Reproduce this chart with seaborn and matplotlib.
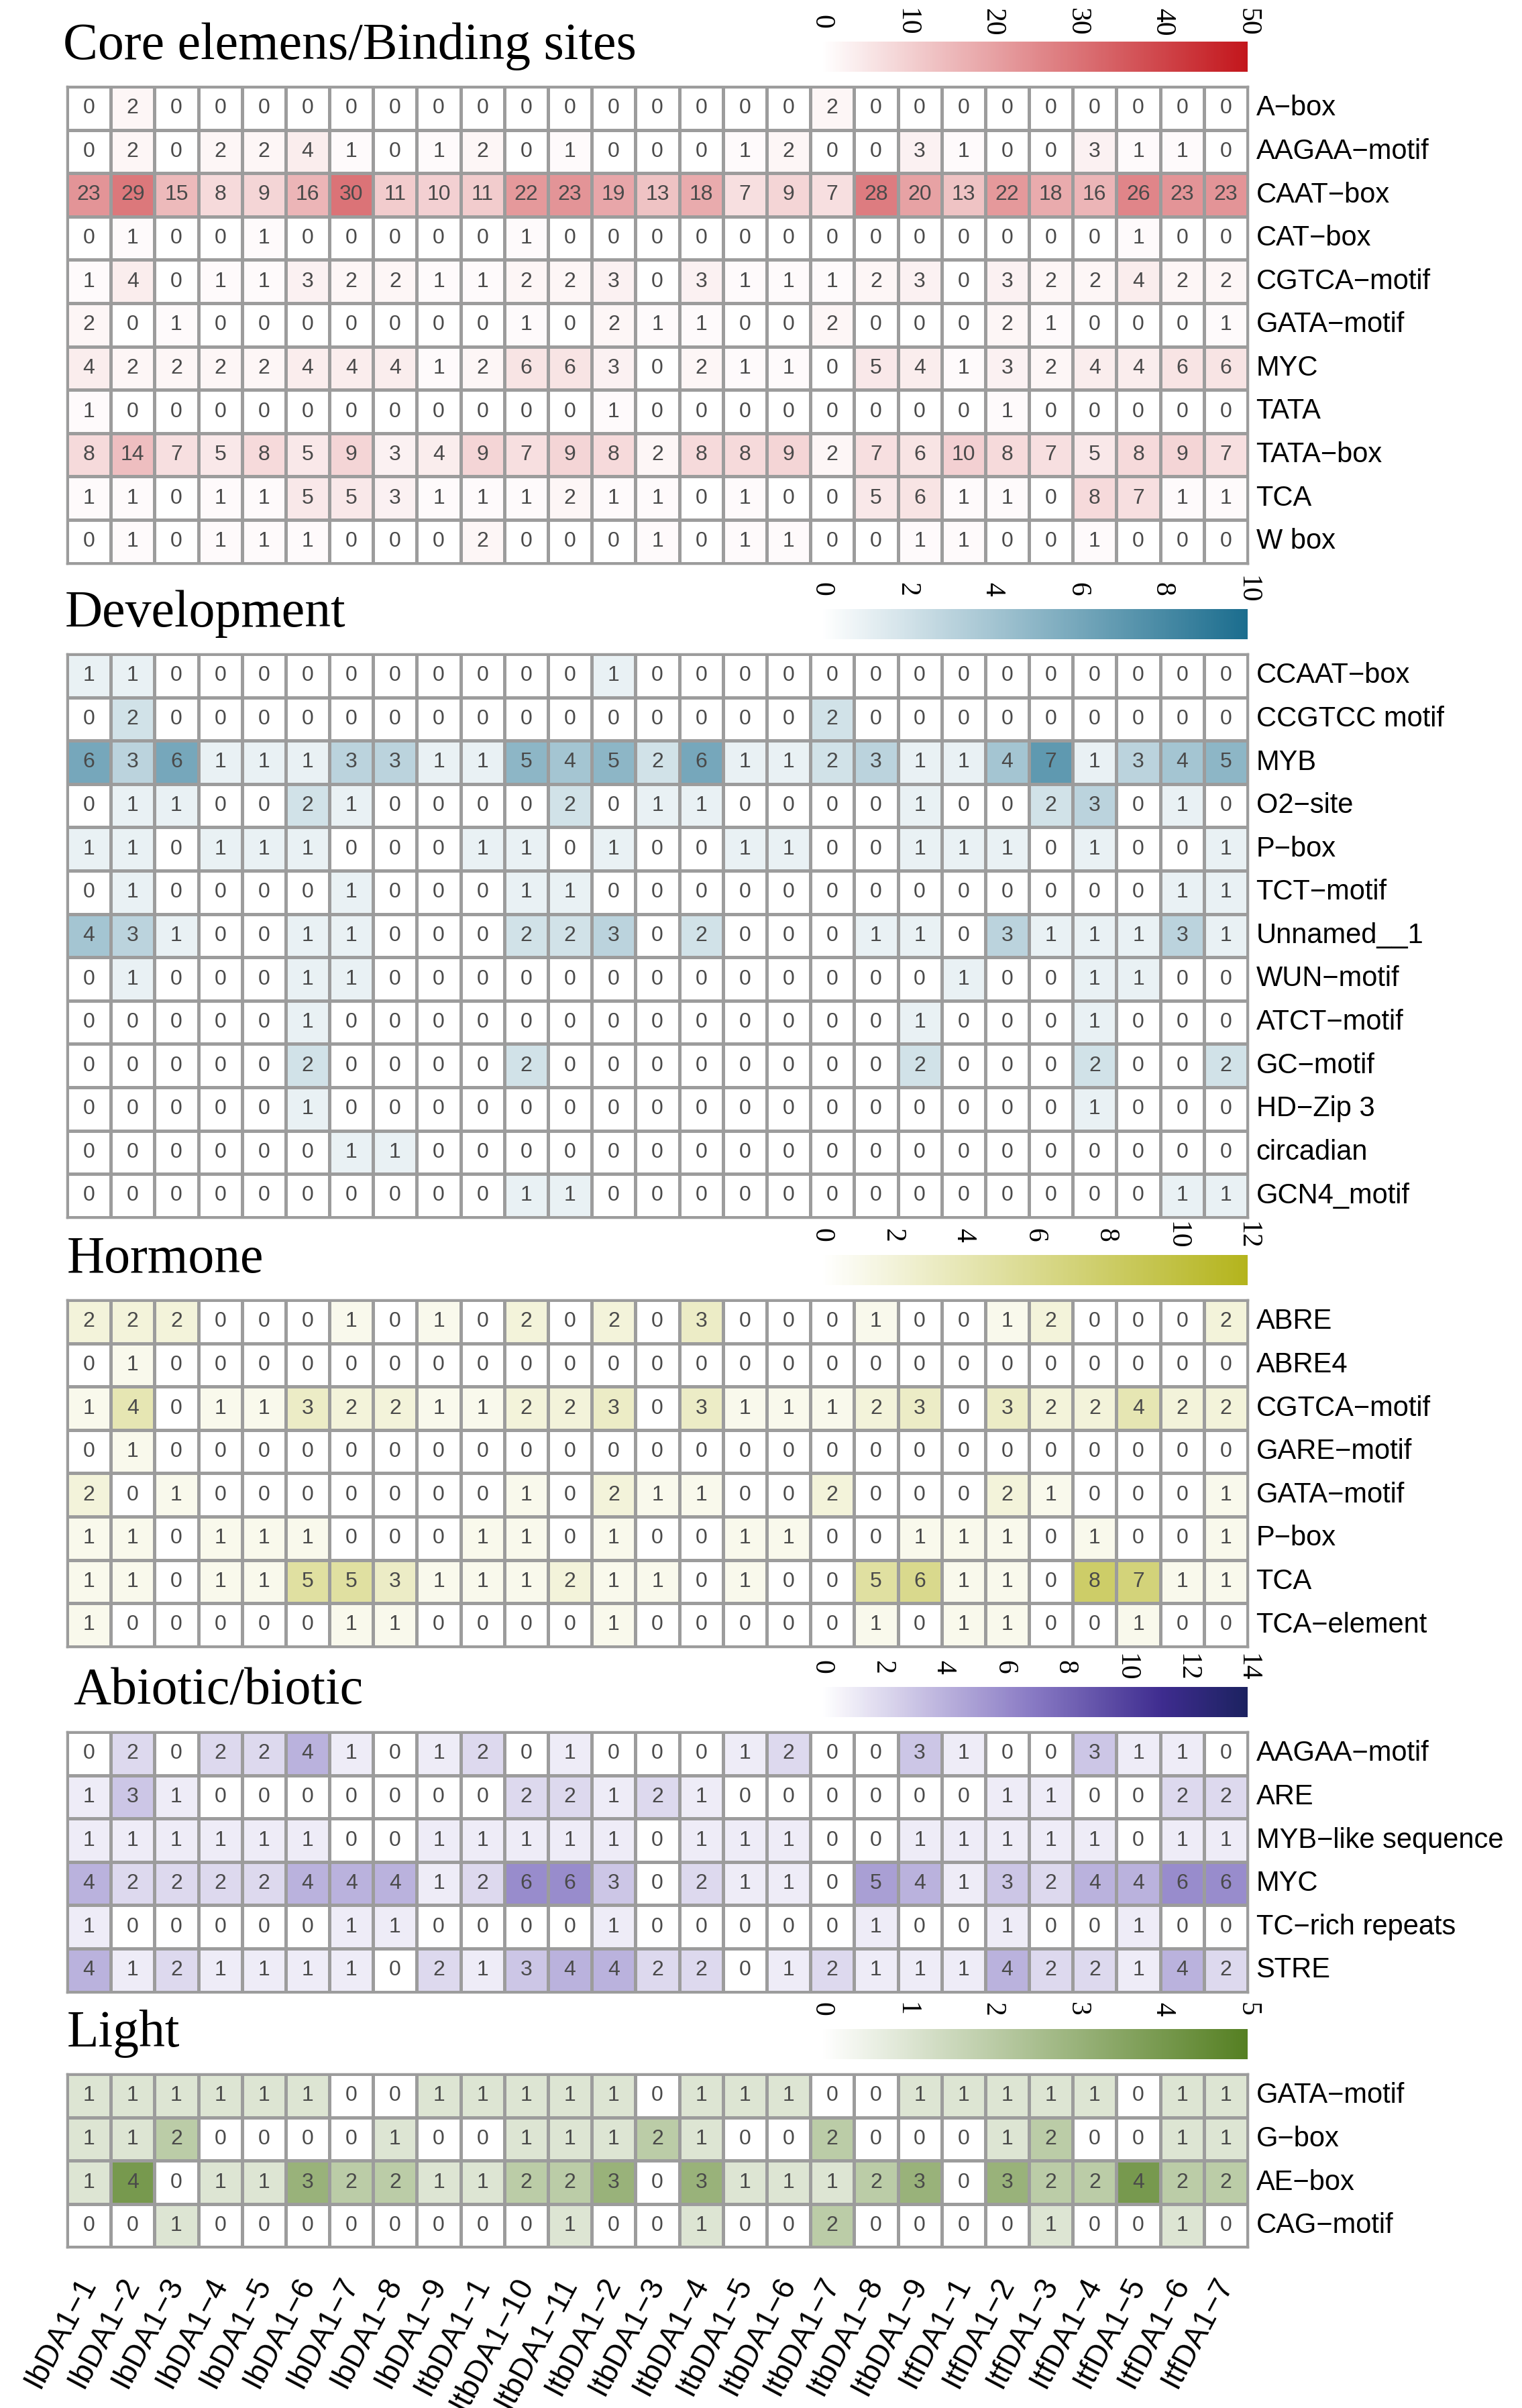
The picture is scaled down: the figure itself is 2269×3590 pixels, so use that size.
import numpy as np
import pandas as pd
import matplotlib
matplotlib.use("Agg")
import matplotlib.pyplot as plt
import seaborn as sns
from matplotlib.colors import LinearSegmentedColormap

M = "\u2212"

# ---------------- data ----------------
columns = [f"IbDA1{M}{i}" for i in range(1, 10)] + \
          [f"ItbDA1{M}{s}" for s in ["1", "10", "11", "2", "3", "4", "5", "6", "7", "8", "9"]] + \
          [f"ItfDA1{M}{i}" for i in range(1, 8)]

core_rows = [f"A{M}box", f"AAGAA{M}motif", f"CAAT{M}box", f"CAT{M}box", f"CGTCA{M}motif",
             f"GATA{M}motif", "MYC", "TATA", f"TATA{M}box", "TCA", "W box"]
core_vals = [
    [0, 2, 0, 0, 0, 0, 0, 0, 0, 0, 0, 0, 0, 0, 0, 0, 0, 2, 0, 0, 0, 0, 0, 0, 0, 0, 0],
    [0, 2, 0, 2, 2, 4, 1, 0, 1, 2, 0, 1, 0, 0, 0, 1, 2, 0, 0, 3, 1, 0, 0, 3, 1, 1, 0],
    [23, 29, 15, 8, 9, 16, 30, 11, 10, 11, 22, 23, 19, 13, 18, 7, 9, 7, 28, 20, 13, 22, 18, 16, 26, 23, 23],
    [0, 1, 0, 0, 1, 0, 0, 0, 0, 0, 1, 0, 0, 0, 0, 0, 0, 0, 0, 0, 0, 0, 0, 0, 1, 0, 0],
    [1, 4, 0, 1, 1, 3, 2, 2, 1, 1, 2, 2, 3, 0, 3, 1, 1, 1, 2, 3, 0, 3, 2, 2, 4, 2, 2],
    [2, 0, 1, 0, 0, 0, 0, 0, 0, 0, 1, 0, 2, 1, 1, 0, 0, 2, 0, 0, 0, 2, 1, 0, 0, 0, 1],
    [4, 2, 2, 2, 2, 4, 4, 4, 1, 2, 6, 6, 3, 0, 2, 1, 1, 0, 5, 4, 1, 3, 2, 4, 4, 6, 6],
    [1, 0, 0, 0, 0, 0, 0, 0, 0, 0, 0, 0, 1, 0, 0, 0, 0, 0, 0, 0, 0, 1, 0, 0, 0, 0, 0],
    [8, 14, 7, 5, 8, 5, 9, 3, 4, 9, 7, 9, 8, 2, 8, 8, 9, 2, 7, 6, 10, 8, 7, 5, 8, 9, 7],
    [1, 1, 0, 1, 1, 5, 5, 3, 1, 1, 1, 2, 1, 1, 0, 1, 0, 0, 5, 6, 1, 1, 0, 8, 7, 1, 1],
    [0, 1, 0, 1, 1, 1, 0, 0, 0, 2, 0, 0, 0, 1, 0, 1, 1, 0, 0, 1, 1, 0, 0, 1, 0, 0, 0],
]

dev_rows = [f"CCAAT{M}box", "CCGTCC motif", "MYB", f"O2{M}site", f"P{M}box", f"TCT{M}motif",
            "Unnamed__1", f"WUN{M}motif", f"ATCT{M}motif", f"GC{M}motif", f"HD{M}Zip 3",
            "circadian", "GCN4_motif"]
dev_vals = [
    [1, 1, 0, 0, 0, 0, 0, 0, 0, 0, 0, 0, 1, 0, 0, 0, 0, 0, 0, 0, 0, 0, 0, 0, 0, 0, 0],
    [0, 2, 0, 0, 0, 0, 0, 0, 0, 0, 0, 0, 0, 0, 0, 0, 0, 2, 0, 0, 0, 0, 0, 0, 0, 0, 0],
    [6, 3, 6, 1, 1, 1, 3, 3, 1, 1, 5, 4, 5, 2, 6, 1, 1, 2, 3, 1, 1, 4, 7, 1, 3, 4, 5],
    [0, 1, 1, 0, 0, 2, 1, 0, 0, 0, 0, 2, 0, 1, 1, 0, 0, 0, 0, 1, 0, 0, 2, 3, 0, 1, 0],
    [1, 1, 0, 1, 1, 1, 0, 0, 0, 1, 1, 0, 1, 0, 0, 1, 1, 0, 0, 1, 1, 1, 0, 1, 0, 0, 1],
    [0, 1, 0, 0, 0, 0, 1, 0, 0, 0, 1, 1, 0, 0, 0, 0, 0, 0, 0, 0, 0, 0, 0, 0, 0, 1, 1],
    [4, 3, 1, 0, 0, 1, 1, 0, 0, 0, 2, 2, 3, 0, 2, 0, 0, 0, 1, 1, 0, 3, 1, 1, 1, 3, 1],
    [0, 1, 0, 0, 0, 1, 1, 0, 0, 0, 0, 0, 0, 0, 0, 0, 0, 0, 0, 0, 1, 0, 0, 1, 1, 0, 0],
    [0, 0, 0, 0, 0, 1, 0, 0, 0, 0, 0, 0, 0, 0, 0, 0, 0, 0, 0, 1, 0, 0, 0, 1, 0, 0, 0],
    [0, 0, 0, 0, 0, 2, 0, 0, 0, 0, 2, 0, 0, 0, 0, 0, 0, 0, 0, 2, 0, 0, 0, 2, 0, 0, 2],
    [0, 0, 0, 0, 0, 1, 0, 0, 0, 0, 0, 0, 0, 0, 0, 0, 0, 0, 0, 0, 0, 0, 0, 1, 0, 0, 0],
    [0, 0, 0, 0, 0, 0, 1, 1, 0, 0, 0, 0, 0, 0, 0, 0, 0, 0, 0, 0, 0, 0, 0, 0, 0, 0, 0],
    [0, 0, 0, 0, 0, 0, 0, 0, 0, 0, 1, 1, 0, 0, 0, 0, 0, 0, 0, 0, 0, 0, 0, 0, 0, 1, 1],
]

hormone_rows = ["ABRE", "ABRE4", f"CGTCA{M}motif", f"GARE{M}motif", f"GATA{M}motif",
                f"P{M}box", "TCA", f"TCA{M}element"]
hormone_vals = [
    [2, 2, 2, 0, 0, 0, 1, 0, 1, 0, 2, 0, 2, 0, 3, 0, 0, 0, 1, 0, 0, 1, 2, 0, 0, 0, 2],
    [0, 1, 0, 0, 0, 0, 0, 0, 0, 0, 0, 0, 0, 0, 0, 0, 0, 0, 0, 0, 0, 0, 0, 0, 0, 0, 0],
    [1, 4, 0, 1, 1, 3, 2, 2, 1, 1, 2, 2, 3, 0, 3, 1, 1, 1, 2, 3, 0, 3, 2, 2, 4, 2, 2],
    [0, 1, 0, 0, 0, 0, 0, 0, 0, 0, 0, 0, 0, 0, 0, 0, 0, 0, 0, 0, 0, 0, 0, 0, 0, 0, 0],
    [2, 0, 1, 0, 0, 0, 0, 0, 0, 0, 1, 0, 2, 1, 1, 0, 0, 2, 0, 0, 0, 2, 1, 0, 0, 0, 1],
    [1, 1, 0, 1, 1, 1, 0, 0, 0, 1, 1, 0, 1, 0, 0, 1, 1, 0, 0, 1, 1, 1, 0, 1, 0, 0, 1],
    [1, 1, 0, 1, 1, 5, 5, 3, 1, 1, 1, 2, 1, 1, 0, 1, 0, 0, 5, 6, 1, 1, 0, 8, 7, 1, 1],
    [1, 0, 0, 0, 0, 0, 1, 1, 0, 0, 0, 0, 1, 0, 0, 0, 0, 0, 1, 0, 1, 1, 0, 0, 1, 0, 0],
]

abiotic_rows = [f"AAGAA{M}motif", "ARE", f"MYB{M}like sequence", "MYC", f"TC{M}rich repeats", "STRE"]
abiotic_vals = [
    [0, 2, 0, 2, 2, 4, 1, 0, 1, 2, 0, 1, 0, 0, 0, 1, 2, 0, 0, 3, 1, 0, 0, 3, 1, 1, 0],
    [1, 3, 1, 0, 0, 0, 0, 0, 0, 0, 2, 2, 1, 2, 1, 0, 0, 0, 0, 0, 0, 1, 1, 0, 0, 2, 2],
    [1, 1, 1, 1, 1, 1, 0, 0, 1, 1, 1, 1, 1, 0, 1, 1, 1, 0, 0, 1, 1, 1, 1, 1, 0, 1, 1],
    [4, 2, 2, 2, 2, 4, 4, 4, 1, 2, 6, 6, 3, 0, 2, 1, 1, 0, 5, 4, 1, 3, 2, 4, 4, 6, 6],
    [1, 0, 0, 0, 0, 0, 1, 1, 0, 0, 0, 0, 1, 0, 0, 0, 0, 0, 1, 0, 0, 1, 0, 0, 1, 0, 0],
    [4, 1, 2, 1, 1, 1, 1, 0, 2, 1, 3, 4, 4, 2, 2, 0, 1, 2, 1, 1, 1, 4, 2, 2, 1, 4, 2],
]

light_rows = [f"GATA{M}motif", f"G{M}box", f"AE{M}box", f"CAG{M}motif"]
light_vals = [
    [1, 1, 1, 1, 1, 1, 0, 0, 1, 1, 1, 1, 1, 0, 1, 1, 1, 0, 0, 1, 1, 1, 1, 1, 0, 1, 1],
    [1, 1, 2, 0, 0, 0, 0, 1, 0, 0, 1, 1, 1, 2, 1, 0, 0, 2, 0, 0, 0, 1, 2, 0, 0, 1, 1],
    [1, 4, 0, 1, 1, 3, 2, 2, 1, 1, 2, 2, 3, 0, 3, 1, 1, 1, 2, 3, 0, 3, 2, 2, 4, 2, 2],
    [0, 0, 1, 0, 0, 0, 0, 0, 0, 0, 0, 1, 0, 0, 1, 0, 0, 2, 0, 0, 0, 0, 1, 0, 0, 1, 0],
]

titles = ["Core elemens/Binding sites", "Development", "Hormone", "Abiotic/biotic", "Light"]
vmaxes = [50, 10, 12, 14, 5]
tick_steps = [10, 2, 2, 2, 1]

# ---------------- styling ----------------
cmaps = [
    LinearSegmentedColormap.from_list("core", ["#ffffff", "#c3161c"]),
    LinearSegmentedColormap.from_list("dev", ["#ffffff", "#1b6d8e"]),
    LinearSegmentedColormap.from_list("hor", ["#ffffff", "#b4b41c"]),
    LinearSegmentedColormap.from_list("abi", [(0, "#ffffff"), (0.5, "#8778c3"),
                                              (0.8, "#3e2c8f"), (1, "#1c2260")]),
    LinearSegmentedColormap.from_list("lig", ["#ffffff", "#557f22"]),
]

W, H = 2269, 3590
fig = plt.figure(figsize=(W / 100, H / 100), dpi=100)
sans = ["Liberation Sans", "DejaVu Sans"]
serif = ["Liberation Serif", "DejaVu Serif"]

tops = [129, 975, 1938, 2582, 3092]
title_x = [94, 97, 100, 109, 100]
CELL_H = 64.6
X0, XW = 100, 1760
GRID = "#9c9c9c"

sections = [(core_rows, core_vals), (dev_rows, dev_vals), (hormone_rows, hormone_vals),
            (abiotic_rows, abiotic_vals), (light_rows, light_vals)]

for i, (rows, vals) in enumerate(sections):
    n = len(rows)
    top = tops[i]
    h = n * CELL_H
    ax = fig.add_axes([X0 / W, 1 - (top + h) / H, XW / W, h / H])
    cax = fig.add_axes([1225 / W, 1 - (top - 22) / H, 635 / W, 45 / H])
    df = pd.DataFrame(vals, index=rows, columns=columns)
    ticks = list(range(0, vmaxes[i] + 1, tick_steps[i]))
    sns.heatmap(df, ax=ax, cmap=cmaps[i], vmin=0, vmax=vmaxes[i], annot=True, fmt="d",
                annot_kws=dict(size=23, color="#4a4a4a", family=sans),
                linewidths=2.2, linecolor=GRID, cbar=True, cbar_ax=cax,
                cbar_kws=dict(orientation="horizontal", ticks=ticks))
    cb = ax.collections[0].colorbar
    cb.outline.set_visible(False)
    cax.xaxis.set_ticks_position("top")
    cax.tick_params(axis="x", length=0, pad=21)
    cax.set_xticks(ticks)
    cax.set_xticklabels([str(t) for t in ticks], rotation=270, fontsize=30,
                        family=serif, va="center", ha="center")

    ax.yaxis.tick_right()
    ax.set_yticks(np.arange(n) + 0.5)
    ax.set_yticklabels(rows, rotation=0, fontsize=30, family=sans, ha="left", va="center")
    ax.tick_params(axis="y", length=0, pad=9)
    ax.set_ylabel("")
    ax.set_xlabel("")
    for s in ax.spines.values():
        s.set_visible(True)
        s.set_color(GRID)
        s.set_linewidth(2.5)

    if i == len(sections) - 1:
        ax.set_xticks(np.arange(len(columns)) + 0.5)
        ax.set_xticklabels(columns, rotation=62, ha="right", va="center",
                           rotation_mode="anchor", fontsize=33, family=sans)
        ax.tick_params(axis="x", length=0, pad=34)
    else:
        ax.set_xticks([])

    fig.text(title_x[i] / W, 1 - (top - 41) / H, titles[i], fontsize=56, family=serif,
             ha="left", va="baseline")

fig.savefig("out.png", dpi=100, facecolor="white")
